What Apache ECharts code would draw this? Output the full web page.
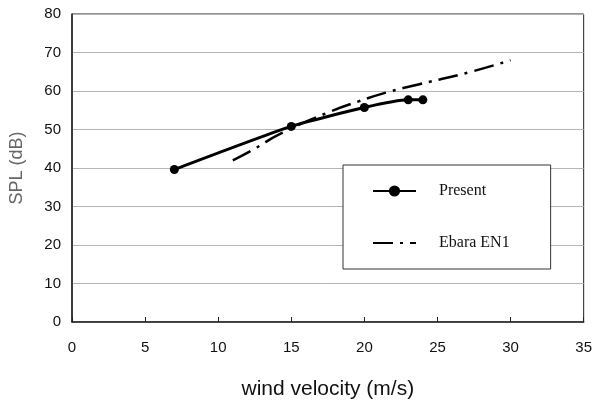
<!DOCTYPE html>
<html>
<head>
<meta charset="utf-8">
<script src="https://cdn.jsdelivr.net/npm/echarts@6/dist/echarts.min.js"></script>
<style>
  html, body { margin: 0; padding: 0; background: #fff; }
  #chart { width: 595px; height: 405px; }
</style>
</head>
<body>
<div id="chart"></div>
<script>
// wind velocity (m/s) vs SPL (dB)
var presentX = [7, 15, 20, 23, 24]
var presentY = [39.6, 50.8, 55.7, 57.7, 57.7]
var ebaraX = [11, 12.4, 14.3, 17.5, 19.6, 21.5, 23.7, 27.3, 30]
var ebaraY = [42, 44.8, 49, 54.4, 57.3, 59.6, 61.7, 65, 68]
var xTicks = [0, 5, 10, 15, 20, 25, 30, 35]
var yTicks = [0, 10, 20, 30, 40, 50, 60, 70, 80]

function pairs(xs, ys) {
  return xs.map(function (x, i) { return [x, ys[i]] })
}

var chart = echarts.init(document.getElementById('chart'))
chart.setOption({
  animation: false,
  grid: {
    left: 72,
    right: 8,
    top: 14,
    bottom: 82,
    show: true,
    borderColor: '#222',
    borderWidth: 1
  },
  legend: {
    orient: 'vertical',
    left: 343,
    top: 165,
    padding: [18, 41, 18, 29],
    itemGap: 36,
    itemWidth: 43,
    itemHeight: 14,
    backgroundColor: '#fff',
    borderColor: '#333',
    borderWidth: 1,
    textStyle: {
      fontFamily: 'Liberation Serif',
      fontSize: 16,
      color: '#111',
      padding: [0, 0, 0, 18]
    },
    data: [
      'Present',
      { name: 'Ebara EN1', itemStyle: { opacity: 0 } }
    ]
  },
  xAxis: {
    type: 'value',
    min: 0,
    max: 35,
    interval: 5,
    name: 'wind velocity (m/s)',
    nameLocation: 'middle',
    nameGap: 57,
    nameTextStyle: { fontFamily: 'Liberation Sans', fontSize: 21, color: '#111' },
    axisLine: { lineStyle: { color: '#222', width: 1.5 } },
    axisTick: { inside: true, length: 5, lineStyle: { color: '#222' } },
    axisLabel: {
      fontFamily: 'Liberation Sans', fontSize: 15, color: '#111', margin: 18,
      formatter: function (v) { return xTicks.indexOf(v) >= 0 ? v : '' }
    },
    splitLine: { show: false }
  },
  yAxis: {
    type: 'value',
    min: 0,
    max: 80,
    interval: 10,
    name: 'SPL (dB)',
    nameLocation: 'middle',
    nameGap: 46,
    nameTextStyle: { fontFamily: 'Liberation Sans', fontSize: 18, color: '#666' },
    axisLine: { show: true, lineStyle: { color: '#222', width: 1.5 } },
    axisTick: { show: false },
    axisLabel: {
      fontFamily: 'Liberation Sans', fontSize: 15, color: '#111', margin: 11,
      formatter: function (v) { return yTicks.indexOf(v) >= 0 ? v : '' }
    },
    splitLine: { lineStyle: { color: '#b4b4b4', width: 1 } }
  },
  series: [
    {
      name: 'Present',
      type: 'line',
      data: pairs(presentX, presentY),
      smooth: 0.2,
      symbol: 'circle',
      symbolSize: 9,
      itemStyle: { color: '#000' },
      lineStyle: { color: '#000', width: 3 },
      z: 3
    },
    {
      name: 'Ebara EN1',
      type: 'line',
      data: pairs(ebaraX, ebaraY),
      smooth: true,
      showSymbol: false,
      symbol: 'none',
      itemStyle: { color: '#000' },
      lineStyle: { color: '#000', width: 2.5, type: [20, 7, 3, 7] },
      z: 2
    }
  ]
})
</script>
</body>
</html>
